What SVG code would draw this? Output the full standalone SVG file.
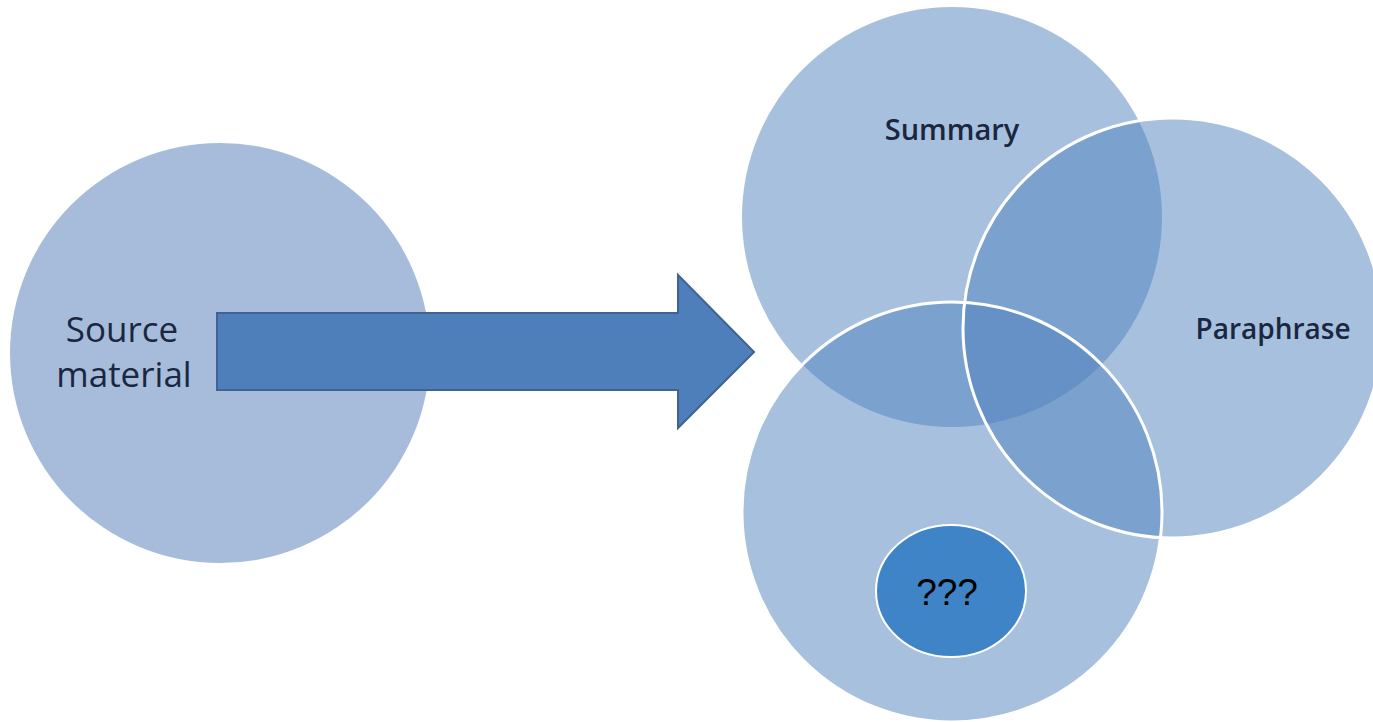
<svg xmlns="http://www.w3.org/2000/svg" width="1373" height="722" viewBox="0 0 1373 722">
  <style>
    .venn { fill: #4f81bd; fill-opacity: 0.5; }
    .ring { fill: none; stroke: #ffffff; stroke-width: 3; }
    .lbl { font-family: "Open Sans", "Liberation Sans", sans-serif; fill: #1a2740; }
  </style>
  <rect width="1373" height="722" fill="#ffffff"/>
  <g id="source">
    <circle cx="220" cy="353" r="210" fill="#a7bcdb"/>
    <text class="lbl" x="122" y="342" font-size="35" text-anchor="middle">Source</text>
    <text class="lbl" x="124" y="387" font-size="35" text-anchor="middle">material</text>
  </g>
  <g id="connectors">
    <polygon points="217,313 678,313 678,275 754,352 678,428 678,390 217,390" fill="#4f7fbb" stroke="#3d6495" stroke-width="2"/>
  </g>
  <g id="summary">
    <circle class="venn" cx="952" cy="217" r="210"/>
  </g>
  <g id="paraphrase">
    <circle class="venn" cx="1173" cy="328" r="210"/>
  </g>
  <g id="third">
    <circle class="venn" cx="952" cy="512" r="210"/>
  </g>
  <g id="outlines">
    <circle class="ring" cx="1173" cy="328" r="210"/>
    <circle class="ring" cx="952" cy="512" r="210"/>
  </g>
  <g id="labels">
    <text class="lbl" x="952" y="140" font-size="29" font-weight="600" text-anchor="middle">Summary</text>
    <text class="lbl" x="1273" y="339" font-size="28" font-weight="600" text-anchor="middle">Paraphrase</text>
  </g>
  <g id="unknown">
    <ellipse cx="951" cy="591" rx="75" ry="66" fill="#3f84c6" stroke="#ffffff" stroke-width="2"/>
    <text x="947" y="605" font-family="Liberation Sans, Arial, sans-serif" font-size="37" fill="#000000" text-anchor="middle">???</text>
  </g>
</svg>
